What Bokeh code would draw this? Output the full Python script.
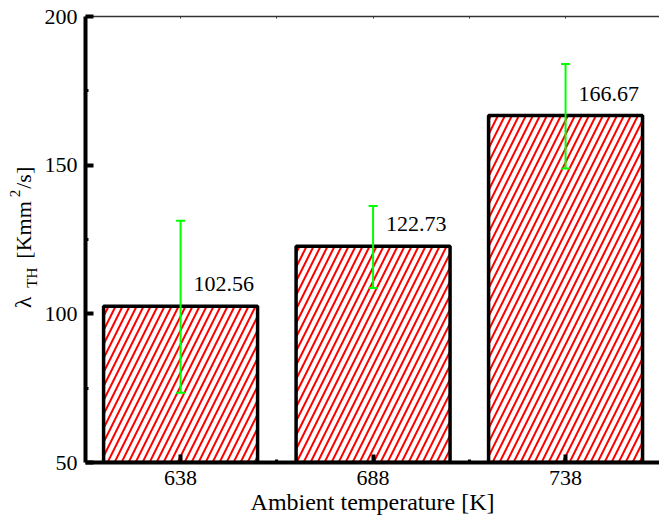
import math
from bokeh.plotting import figure
from bokeh.layouts import row
from bokeh.models import (Range1d, FixedTicker, LinearAxis, Whisker, TeeHead,
                          ColumnDataSource, LabelSet)
from bokeh.embed import file_html
from bokeh.resources import INLINE

# ---- data ----
temperatures = [638, 688, 738]
lambda_th = [102.56, 122.73, 166.67]
err_upper = [131.3, 136.3, 184.0]
err_lower = [73.5, 108.7, 148.9]
value_labels = ["102.56", "122.73", "166.67"]
x_ticks = [638, 688, 738]
x_minor = [663, 713]
y_ticks = [50, 100, 150, 200]
y_minor = [75, 125, 175]
top_ticks = [638, 663, 688, 713, 738]
ylabel_parts = ["\u03bb", "TH", "[Kmm", "2", "/s]"]

FONT = "Liberation Serif"
GREEN = "#00ff00"
PANEL_W = 40

p = figure(width=659 - PANEL_W, height=523,
           x_range=Range1d(613.3, 762.4), y_range=Range1d(50, 200),
           output_backend="svg", toolbar_location=None,
           min_border_left=85 - PANEL_W, min_border_right=0,
           min_border_top=16, min_border_bottom=61)
p.outline_line_color = None
p.grid.visible = False
p.background_fill_color = "white"
p.border_fill_color = "white"

p.xaxis.ticker = FixedTicker(ticks=x_ticks, minor_ticks=x_minor)
p.yaxis.ticker = FixedTicker(ticks=y_ticks, minor_ticks=y_minor)

for ax in [p.xaxis[0], p.yaxis[0]]:
    ax.axis_line_width = 4
    ax.axis_line_color = "black"
    ax.major_tick_in = 8
    ax.major_tick_out = 0
    ax.major_tick_line_width = 4
    ax.minor_tick_in = 3
    ax.minor_tick_out = 0
    ax.minor_tick_line_width = 3
    ax.major_label_text_font = FONT
    ax.major_label_text_font_size = "22px"
    ax.major_label_text_color = "black"

p.yaxis.major_label_standoff = 8
p.xaxis.major_label_standoff = 8
p.xaxis.axis_label = "Ambient temperature [K]"
p.xaxis.axis_label_text_font = FONT
p.xaxis.axis_label_text_font_size = "24px"
p.xaxis.axis_label_text_font_style = "normal"
p.xaxis.axis_label_text_color = "black"
p.xaxis.axis_label_standoff = 1

top = LinearAxis(ticker=FixedTicker(ticks=top_ticks, minor_ticks=[]),
                 axis_line_width=1.5, axis_line_color="#333333",
                 major_tick_in=2, major_tick_out=0, major_tick_line_color="#333333",
                 major_label_overrides={t: "" for t in top_ticks},
                 major_label_standoff=0)
p.add_layout(top, "above")

src = ColumnDataSource(dict(x=temperatures, top=lambda_th, upper=err_upper,
                            lower=err_lower, label=value_labels))

p.vbar(x="x", top="top", bottom=50, width=40, source=src,
       fill_color="white", line_color="black", line_width=3.5,
       hatch_pattern="/", hatch_color="red", hatch_weight=2, hatch_scale=14)

wh = Whisker(base="x", upper="upper", lower="lower", source=src,
             line_color=GREEN, line_width=2, level="overlay",
             upper_head=TeeHead(size=9, line_color=GREEN, line_width=2),
             lower_head=TeeHead(size=9, line_color=GREEN, line_width=2))
p.add_layout(wh)

p.add_layout(LabelSet(x="x", y="top", text="label", source=src,
                      x_offset=13, y_offset=15,
                      text_font=FONT, text_font_size="22px", text_color="black"))

# ---- narrow left panel holding the rotated y-axis title ----
lab = figure(width=PANEL_W, height=523, x_range=Range1d(0, PANEL_W), y_range=Range1d(523, 0),
             output_backend="svg", toolbar_location=None,
             min_border=0, min_border_left=0, min_border_right=0,
             min_border_top=0, min_border_bottom=0)
lab.axis.visible = False
lab.grid.visible = False
lab.outline_line_color = None
lab.background_fill_color = "white"
lab.border_fill_color = "white"

# (centre-line x, start y) in panel pixels, and font size for each part
lab_src = ColumnDataSource(dict(
    x=[23, 32, 23, 15, 23],
    y=[342, 318, 284, 212, 202],
    size=["24px", "15px", "22px", "15px", "22px"],
    text=ylabel_parts))
lab.add_layout(LabelSet(x="x", y="y", text="text", source=lab_src,
                        angle=math.pi / 2, text_font=FONT,
                        text_font_size="size", text_color="black",
                        text_align="left", text_baseline="middle"))

layout = row(lab, p, spacing=0)
open("out.html", "w").write(file_html(layout, INLINE))
